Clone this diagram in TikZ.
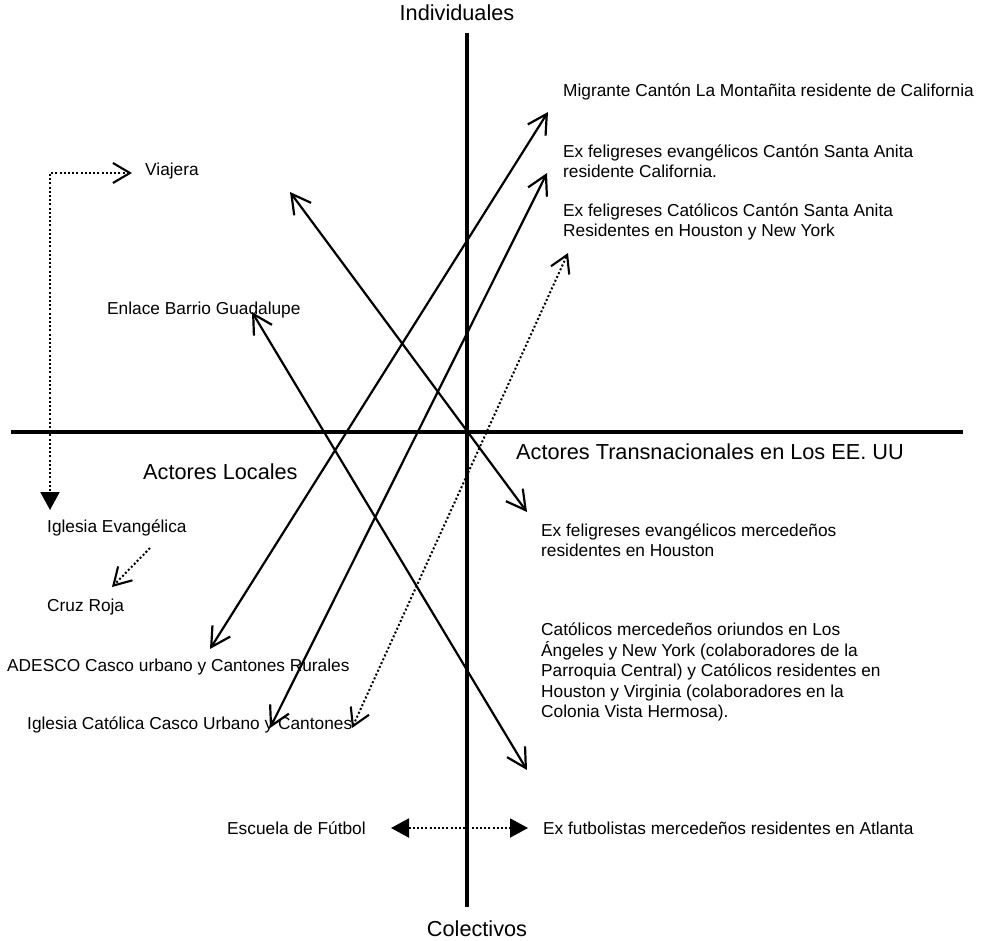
\documentclass[tikz,border=0pt]{standalone}
\usepackage{fontspec}
\setmainfont{Liberation Sans}
\usepackage{tikz}
\usetikzlibrary{arrows.meta}

\begin{document}
\begin{tikzpicture}[x=1pt,y=-1pt,
  txt/.style={font=\fontsize{17.3}{20.5}\selectfont, inner sep=0pt, anchor=west, align=left},
  bigtxt/.style={font=\fontsize{21.7}{25}\selectfont, inner sep=0pt},
  axis/.style={line width=3.8pt},
  link/.style={line width=2.2pt, {Straight Barb[length=19pt,width=21pt]}-{Straight Barb[length=19pt,width=21pt]}},
  dots/.style={line width=2pt, dash pattern=on 2pt off 2.2pt},
  barb/.tip={Straight Barb[length=17pt,width=20pt,line width=2.1pt]},
  tri/.tip={Triangle[length=18pt,width=19pt]}]
\useasboundingbox (0,0) rectangle (995,940);
% axes
\coordinate (top) at (467,33);
\coordinate (bot) at (467,907);
\coordinate (lft) at (11,432);
\coordinate (rgt) at (963,432);
\draw[axis] (top) -- (bot);
\draw[axis] (lft) -- (rgt);
\node[bigtxt] (indiv) at (457,13) {Individuales};
\node[bigtxt] (colec) at (477,929) {Colectivos};
\node[bigtxt,anchor=west] (locales) at (143,472) {Actores Locales};
\node[bigtxt,anchor=west] (transn) at (516,452) {Actores Transnacionales en Los EE. UU};
%
% actores locales
\node[txt] (viajera) at (145,171) {Viajera};
\node[txt] (enlace) at (107,310) {Enlace Barrio Guadalupe};
\node[txt] (evang) at (47,528) {Iglesia Evangélica};
\node[txt] (cruz) at (47,607) {Cruz Roja};
\node[txt] (adesco) at (7,667) {ADESCO Casco urbano y Cantones Rurales};
\node[txt] (catol) at (27,725) {Iglesia Católica Casco Urbano y Cantones};
\node[txt] (escuela) at (227,828) {Escuela de Fútbol};
%
% actores transnacionales
\node[txt] (migrante) at (563,92) {Migrante Cantón La Montañita residente de California};
\node[txt] (anitaev) at (563,161) {Ex feligreses evangélicos Cantón Santa Anita\\residente California.};
\node[txt] (anitacat) at (563,222) {Ex feligreses Católicos Cantón Santa Anita\\Residentes en Houston y New York};
\node[txt] (houston) at (541,540) {Ex feligreses evangélicos mercedeños\\residentes en Houston};
\node[txt] (mercede) at (541,672) {Católicos mercedeños oriundos en Los\\Ángeles y New York (colaboradores de la\\Parroquia Central) y Católicos residentes en\\Houston y Virginia (colaboradores en la\\Colonia Vista Hermosa).};
\node[txt] (futbol) at (543,828) {Ex futbolistas mercedeños residentes en Atlanta};
%
% extremos de las flechas
\coordinate (a1s) at (210,649);
\coordinate (a1e) at (548,112);
\coordinate (a2s) at (270,728);
\coordinate (a2e) at (547,173);
\coordinate (a3s) at (352,728);
\coordinate (a3e) at (568,253);
\coordinate (a4s) at (290,192);
\coordinate (a4e) at (527,512);
\coordinate (a5s) at (252,312);
\coordinate (a5e) at (527,770);
\coordinate (vtip) at (132,173);
\coordinate (vcorner) at (50,173);
\coordinate (etip) at (50,510);
\coordinate (cs) at (150,548);
\coordinate (ce) at (112,587);
\coordinate (fs) at (391,828);
\coordinate (fe) at (528,828);
%
\draw[link] (a1s) -- (a1e);
\draw[link] (a2s) -- (a2e);
\draw[link] (a4s) -- (a4e);
\draw[link] (a5s) -- (a5e);
\draw[dots,barb-barb] (a3s) -- (a3e);
\draw[dots,barb-tri] (vtip) -- (vcorner) -- (etip);
\draw[dots,-barb] (cs) -- (ce);
\draw[dots,tri-tri] (fs) -- (fe);
\end{tikzpicture}
\end{document}
